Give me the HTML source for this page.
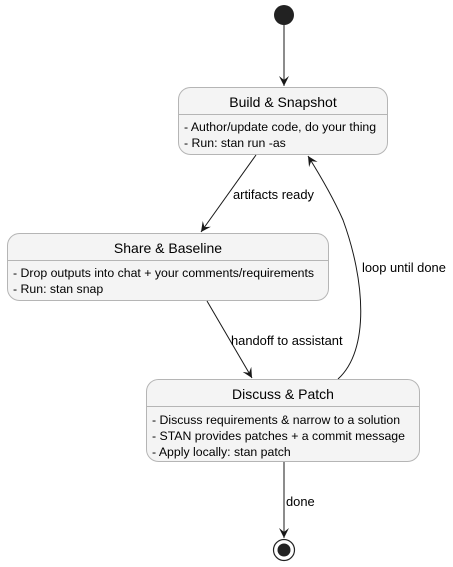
<!DOCTYPE html>
<html><head><style>body{margin:0;background:#fff}svg{display:block}text{font-family:"Liberation Sans",sans-serif;fill:#000}</style></head><body>
<svg width="453" height="567" viewBox="0 0 453 567" xmlns="http://www.w3.org/2000/svg">
<defs><marker id="a" markerWidth="12" markerHeight="12" refX="10" refY="6" orient="auto" markerUnits="userSpaceOnUse"><path d="M0,1 L10,6 L0,11 L4,6 Z" fill="#181818"/></marker></defs>
<circle cx="284" cy="15" r="10" fill="#222"/>
<line x1="284" y1="25" x2="284" y2="86" stroke="#181818" stroke-width="1" marker-end="url(#a)"/>
<rect x="178.5" y="87.5" width="209" height="67" rx="12" fill="#f4f4f4" stroke="#b5b5b5"/>
<line x1="178.5" y1="114.5" x2="387.5" y2="114.5" stroke="#b5b5b5"/>
<text x="283" y="107" font-size="14" text-anchor="middle">Build &amp; Snapshot</text>
<text x="184" y="131" font-size="12.3">- Author/update code, do your thing</text>
<text x="184" y="147" font-size="12.3">- Run: stan run -as</text>
<line x1="256" y1="155" x2="201" y2="232" stroke="#181818" marker-end="url(#a)"/>
<text x="233" y="199" font-size="12.9">artifacts ready</text>
<rect x="7.5" y="233.5" width="321" height="67" rx="12" fill="#f4f4f4" stroke="#b5b5b5"/>
<line x1="7.5" y1="260.5" x2="328.5" y2="260.5" stroke="#b5b5b5"/>
<text x="168" y="253" font-size="14" text-anchor="middle">Share &amp; Baseline</text>
<text x="13" y="277" font-size="12.3">- Drop outputs into chat + your comments/requirements</text>
<text x="13" y="293" font-size="12.3">- Run: stan snap</text>
<line x1="207" y1="301" x2="252" y2="378" stroke="#181818" marker-end="url(#a)"/>
<text x="231" y="345" font-size="12.9">handoff to assistant</text>
<path d="M338,379 C370,350 365,280 343,220 C332,195 318,172 308,156" fill="none" stroke="#181818" marker-end="url(#a)"/>
<text x="362" y="272" font-size="12.9">loop until done</text>
<rect x="146.5" y="379.5" width="273" height="82" rx="12" fill="#f4f4f4" stroke="#b5b5b5"/>
<line x1="146.5" y1="406.5" x2="419.5" y2="406.5" stroke="#b5b5b5"/>
<text x="283" y="399" font-size="14" text-anchor="middle">Discuss &amp; Patch</text>
<text x="152" y="424" font-size="12.3">- Discuss requirements &amp; narrow to a solution</text>
<text x="152" y="440" font-size="12.3">- STAN provides patches + a commit message</text>
<text x="152" y="456" font-size="12.3">- Apply locally: stan patch</text>
<line x1="284" y1="462" x2="284" y2="538" stroke="#181818" marker-end="url(#a)"/>
<text x="286" y="506" font-size="12.9">done</text>
<circle cx="284" cy="550" r="10.5" fill="#fff" stroke="#222" stroke-width="1.2"/>
<circle cx="284" cy="550" r="6.5" fill="#222"/>
</svg>
</body></html>
